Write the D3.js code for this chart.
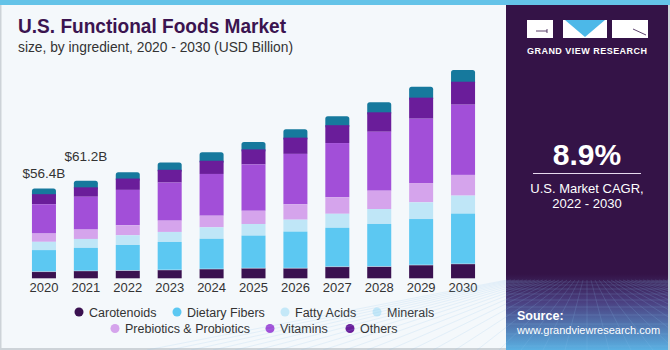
<!DOCTYPE html>
<html><head><meta charset="utf-8">
<script src="https://cdn.jsdelivr.net/npm/d3@7"></script>
<style>body{margin:0;padding:0;background:#fff}svg{display:block}</style>
</head><body>
<script>
const years = ["2020","2021","2022","2023","2024","2025","2026","2027","2028","2029","2030"];
const carotenoids   = [4.1, 4.6, 4.8, 5.2, 5.8, 6.3, 6.3, 7.2, 7.3, 8.3, 9.0];
const dietaryFibers = [13.6,14.5,16.1,17.6,19.0,20.5,23.0,24.5,26.8,28.9,31.6];
const fattyAcids    = [5.2, 5.6, 6.1, 6.3, 7.2, 7.3, 7.5, 8.8, 9.4, 10.5,11.3];
const prebiotics    = [5.2, 5.9, 6.3, 7.1, 7.3, 8.3, 9.7, 10.4,11.5,12.1,13.0];
const vitamins      = [18.4,20.6,22.2,23.9,26.2,29.1,31.6,34.0,37.0,40.4,44.1];
const others        = [6.3, 5.9, 7.1, 8.0, 8.3, 9.4, 10.2,11.2,12.2,13.2,14.4];
const minerals      = [3.6, 4.1, 4.0, 4.6, 5.3, 4.6, 5.3, 5.6, 6.3, 6.9, 7.3];
const totalLabels = [{year:"2020", text:"$56.4B"},{year:"2021", text:"$61.2B"}];
const legendNames = ["Carotenoids","Dietary Fibers","Fatty Acids","Minerals","Prebiotics & Probiotics","Vitamins","Others"];

const W=670,H=350;
const svg=d3.select("body").append("svg").attr("width",W).attr("height",H);
svg.append("rect").attr("width",W).attr("height",H).attr("fill","#f4f8fb");
svg.append("rect").attr("x",0).attr("y",0).attr("width",1.5).attr("height",H).attr("fill","#cdd3d8");
svg.append("rect").attr("x",0).attr("y",H-2).attr("width",W).attr("height",2).attr("fill","#cdd3d8");
svg.append("rect").attr("x",0).attr("y",0).attr("width",W).attr("height",5).attr("fill","#64c3e8");

// title
svg.append("text").attr("x",18).attr("y",33).text("U.S. Functional Foods Market")
  .attr("font-family","'Liberation Sans',Arial,sans-serif").attr("font-weight","900").attr("font-size",20)
  .attr("fill","#3b1450").attr("textLength",268).attr("lengthAdjust","spacingAndGlyphs");
svg.append("text").attr("x",18).attr("y",52).text("size, by ingredient, 2020 - 2030 (USD Billion)")
  .attr("font-family","'Liberation Sans',Arial,sans-serif").attr("font-size",14).attr("fill","#333")
  .attr("textLength",275).attr("lengthAdjust","spacingAndGlyphs");

const keys=["carotenoids","dietaryFibers","fattyAcids","prebiotics","vitamins","others","minerals"];
const colors={carotenoids:"#3a1150",dietaryFibers:"#5cc8f2",fattyAcids:"#bfe6f7",prebiotics:"#d5a4ec",vitamins:"#a24fd8",others:"#6a1d9a",minerals:"#16799d"};
const legendColors=["#3a1150","#5cc8f2","#c4e8f8","#c4e8f8","#d5a4ec","#a24fd8","#6a1d9a"];
const src={carotenoids,dietaryFibers,fattyAcids,prebiotics,vitamins,others,minerals};
const table=years.map((y,i)=>{const o={year:y};keys.forEach(k=>o[k]=src[k][i]);return o;});
const stack=d3.stack().keys(keys)(table);

const x=d3.scaleBand().domain(years).range([23,484]).paddingInner(0.427).paddingOuter(0.2135);
const y=d3.scaleLinear().domain([0,140]).range([278.3,278.3-140*1.593]);

const g=svg.append("g");
stack.slice().reverse().forEach(layer=>{
  const isTop=layer.key==="minerals";
  g.selectAll(null).data(layer).join("rect")
   .attr("x",d=>x(d.data.year)).attr("width",x.bandwidth())
   .attr("y",d=>y(d[1]))
   .attr("height",d=>y(d[0])-y(d[1])+(isTop?3:0))
   .attr("rx",isTop?2.5:0)
   .attr("fill",colors[layer.key]);
});
g.selectAll(null).data(stack[0]).join("rect")
  .attr("x",d=>x(d.data.year)).attr("width",x.bandwidth())
  .attr("y",d=>y(d[1])-0.5).attr("height",0.8).attr("fill","#eaf3fa").attr("opacity",0.6);

// x axis
const ax=svg.append("g").attr("transform","translate(0,279)").call(d3.axisBottom(x).tickSize(0).tickPadding(4));
ax.select(".domain").remove();
ax.selectAll("text").attr("font-family","'Liberation Sans',Arial,sans-serif").attr("font-size",13).attr("fill","#333");

// totals
const labelPos={"2020":{dx:0,dy:-10},"2021":{dx:0,dy:-20}};
const totalOf=yr=>stack[stack.length-1].find(d=>d.data.year===yr)[1];
svg.selectAll(null).data(totalLabels).join("text")
  .attr("x",d=>x(d.year)+x.bandwidth()/2+labelPos[d.year].dx)
  .attr("y",d=>y(totalOf(d.year))+labelPos[d.year].dy)
  .attr("text-anchor","middle").text(d=>d.text)
  .attr("font-family","'Liberation Sans',Arial,sans-serif").attr("font-size",13.5).attr("fill","#333");

// legend
const legRows=[[0,1,2,3],[4,5,6]];
const legX=[[79,177,285,377],[115,270,350]];
const legY=[312,328.5];
legRows.forEach((row,ri)=>row.forEach((li,j)=>{
  svg.append("circle").attr("cx",legX[ri][j]).attr("cy",legY[ri]).attr("r",4.5).attr("fill",legendColors[li]);
  svg.append("text").attr("x",legX[ri][j]+10).attr("y",legY[ri]+4.5).text(legendNames[li])
    .attr("font-family","'Liberation Sans',Arial,sans-serif").attr("font-size",12.5).attr("fill","#333");
}));

// right panel
const defs=svg.append("defs");
const lg=defs.append("linearGradient").attr("id","pg").attr("x1",0).attr("y1",0).attr("x2",0).attr("y2",1);
lg.append("stop").attr("offset","0").attr("stop-color","#341347");
lg.append("stop").attr("offset","0.78").attr("stop-color","#341347");
lg.append("stop").attr("offset","0.86").attr("stop-color","#4a3f80");
lg.append("stop").attr("offset","1").attr("stop-color","#5ab0e2");
const P=506;
svg.append("rect").attr("x",P).attr("y",5).attr("width",W-P).attr("height",H-5).attr("fill","url(#pg)");
const grid=svg.append("g").attr("stroke","#8fc4ee").attr("stroke-width",0.5).attr("opacity",0.35);
const cx=587;
for(let i=-20;i<=20;i++){grid.append("line").attr("x1",cx+i*4).attr("y1",280).attr("x2",cx+i*22).attr("y2",350);}
[282,285,289,294,300,307,315,324,334,346].forEach(v=>grid.append("line").attr("x1",P).attr("x2",W).attr("y1",v).attr("y2",v));
svg.append("rect").attr("x",W-2).attr("y",5).attr("width",2).attr("height",H-5).attr("fill","#cdd3d8");
// logo
svg.append("rect").attr("x",527).attr("y",20).attr("width",26).attr("height",18).attr("fill","#fff");
svg.append("rect").attr("x",563).attr("y",20).attr("width",44).attr("height",18).attr("fill","#fff");
svg.append("path").attr("d","M565,20 L605,20 L585,37 Z").attr("fill","#4cb8e8");
svg.append("rect").attr("x",612).attr("y",20).attr("width",36).attr("height",18).attr("fill","#fff");
svg.append("line").attr("x1",536).attr("y1",31).attr("x2",547).attr("y2",31).attr("stroke","#341347").attr("stroke-width",0.8);
svg.append("line").attr("x1",547).attr("y1",29).attr("x2",547).attr("y2",33).attr("stroke","#341347").attr("stroke-width",0.8);
svg.append("line").attr("x1",633).attr("y1",29).attr("x2",646).attr("y2",35).attr("stroke","#341347").attr("stroke-width",0.8);
svg.append("text").attr("x",587).attr("y",54).attr("text-anchor","middle").text("GRAND VIEW RESEARCH")
  .attr("font-family","'Liberation Sans',Arial,sans-serif").attr("font-weight","bold").attr("font-size",9)
  .attr("fill","#fff").attr("textLength",120).attr("lengthAdjust","spacing");
svg.append("text").attr("x",587).attr("y",165).attr("text-anchor","middle").text("8.9%")
  .attr("font-family","'Liberation Sans',Arial,sans-serif").attr("font-weight","bold").attr("font-size",30).attr("fill","#fff");
svg.append("line").attr("x1",533).attr("x2",641).attr("y1",173.5).attr("y2",173.5).attr("stroke","#e6d9ee").attr("stroke-width",1);
svg.append("text").attr("x",587).attr("y",193).attr("text-anchor","middle").text("U.S. Market CAGR,")
  .attr("font-family","'Liberation Sans',Arial,sans-serif").attr("font-size",13).attr("fill","#fff");
svg.append("text").attr("x",587).attr("y",208).attr("text-anchor","middle").text("2022 - 2030")
  .attr("font-family","'Liberation Sans',Arial,sans-serif").attr("font-size",13).attr("fill","#fff");
svg.append("text").attr("x",517).attr("y",320).text("Source:")
  .attr("font-family","'Liberation Sans',Arial,sans-serif").attr("font-weight","bold").attr("font-size",12.5).attr("fill","#fff");
svg.append("text").attr("x",517).attr("y",334).text("www.grandviewresearch.com")
  .attr("font-family","'Liberation Sans',Arial,sans-serif").attr("font-size",11).attr("fill","#fff");
</script>
</body></html>
